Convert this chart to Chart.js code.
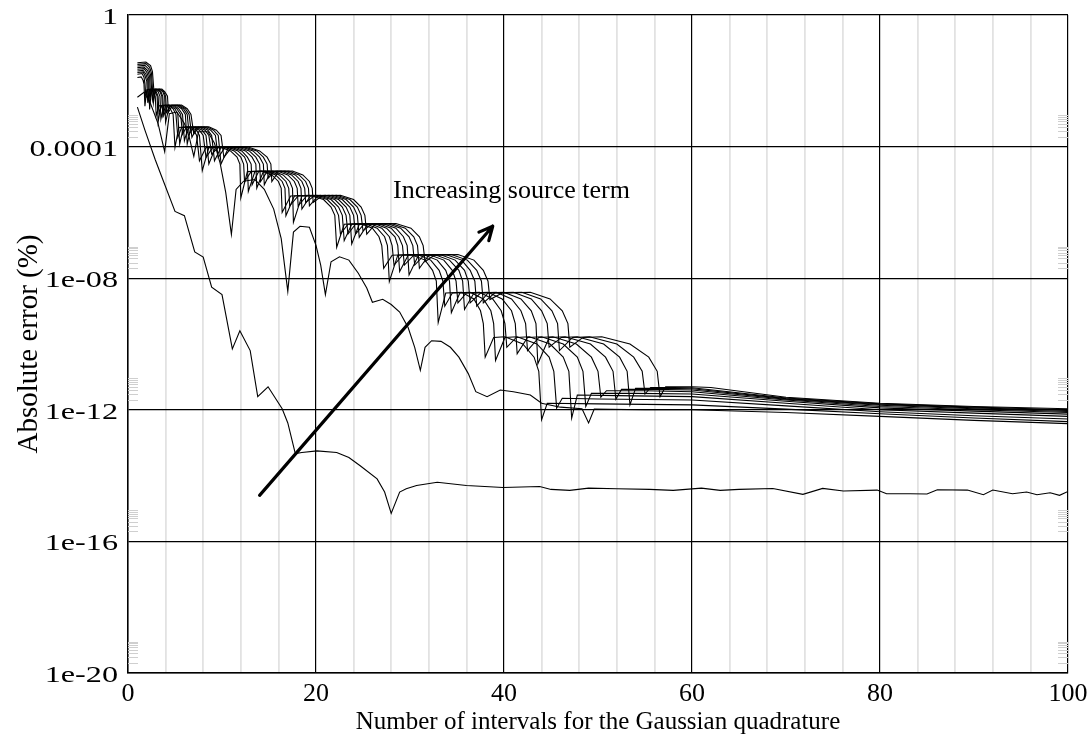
<!DOCTYPE html>
<html>
<head>
<meta charset="utf-8">
<script src="https://cdn.jsdelivr.net/npm/chart.js@4.4.0/dist/chart.umd.min.js"></script>
<style>
html, body { margin: 0; padding: 0; background: #fff; }
</style>
</head>
<body>
<canvas id="errChart" width="1091" height="735"></canvas>
<script>
// values are [number of intervals, log10(absolute error %)]
var curveA = [[1,-2.8],[1.8,-3.5],[2.9,-4.4],[3.7,-5.0],[5,-5.97],[6,-6.1],[7.1,-7.2],[8,-7.36],[8.9,-8.27],[10,-8.5],
  [11.1,-10.15],[11.9,-9.6],[13,-10.2],[13.8,-11.6],[14.9,-11.3],[16.4,-11.97],[17,-12.4],[17.8,-13.33],[18.5,-13.3],
  [20.1,-13.25],[22.2,-13.3],[23.5,-13.45],[24.7,-13.7],[26.5,-14.1],[27.3,-14.5],[28.0,-15.15],[28.9,-14.5],[29.6,-14.4],
  [30.7,-14.3],[32.9,-14.2],[36,-14.3],[39.9,-14.36],[43.8,-14.33],[45,-14.42],[47,-14.45],[49,-14.38],[52,-14.4],
  [55.5,-14.42],[58,-14.45],[61,-14.38],[63,-14.45],[65,-14.42],[68.6,-14.39],[71.8,-14.57],[73.9,-14.39],[76.1,-14.47],
  [79.7,-14.44],[80.7,-14.55],[83.2,-14.55],[85,-14.56],[86.1,-14.43],[89.3,-14.44],[91,-14.58],[92,-14.44],[94.1,-14.55],
  [95.6,-14.5],[96.7,-14.58],[98.1,-14.52],[99.1,-14.6],[100,-14.48]];

var curveB = [[1,-2.5],[1.7,-2.35],[2.4,-2.7],[3.2,-3.3],[3.9,-4.15],[4.4,-3.0],[5.2,-2.95],[6.0,-3.3],[6.5,-3.7],[7.0,-4.3],
  [7.5,-3.55],[8.5,-3.55],[9.2,-3.9],[9.8,-4.5],[10.4,-5.4],[11.0,-6.67],[11.5,-5.3],[12.3,-5.05],[13.5,-5.0],[14.5,-5.3],
  [15.5,-5.9],[16.3,-6.8],[17.0,-8.4],[17.6,-6.6],[18.3,-6.42],[19.3,-6.45],[20.0,-7.0],[20.5,-7.6],[21.0,-8.5],[21.6,-7.5],
  [22.5,-7.35],[23.5,-7.45],[24.5,-7.85],[25.4,-8.3],[26.0,-8.73],[27.1,-8.64],[28.0,-8.8],[28.9,-9.03],[29.8,-9.5],
  [30.5,-10.1],[31.1,-10.8],[31.6,-10.1],[32.3,-9.9],[33.3,-9.92],[34.3,-10.1],[35.2,-10.4],[36.2,-10.9],[37.0,-11.45],
  [38.2,-11.6],[39.6,-11.4],[41.0,-11.45],[42.8,-11.55],[44.0,-11.8],[46.0,-11.92],[48.3,-11.97],[49.0,-12.4],[49.6,-11.98],
  [55,-12.0],[60,-12.0],[70,-12.08],[80,-12.2],[90,-12.32],[100,-12.42]];

var src1 = [[1,-1.9],[1.4,-1.88],[1.6,-1.98],[1.7,-2.1],[1.8,-2.77],
  [2.0,-2.27],[2.4,-2.25],[2.7,-2.33],[2.9,-2.47],[3.0,-3.06],
  [3.3,-2.76],[4.0,-2.74],[4.5,-2.85],[4.8,-3.02],[5.0,-4.02],
  [5.4,-3.42],[6.3,-3.40],[7.0,-3.50],[7.3,-3.66],[7.6,-4.43],
  [8.3,-4.03],[9.8,-4.01],[10.9,-4.13],[11.6,-4.32],[11.9,-4.53],[12.0,-5.56],
  [12.7,-4.76],[14.2,-4.74],[15.3,-4.86],[16.0,-5.06],[16.3,-5.27],[16.4,-6.0],
  [17.3,-5.5],[19.3,-5.48],[20.8,-5.61],[21.6,-5.84],[22.0,-6.09],[22.2,-7.06],
  [23.0,-6.36],[24.7,-6.34],[26.0,-6.48],[26.7,-6.74],[27.0,-7.01],[27.2,-7.7],
  [28.1,-7.3],[30.1,-7.28],[31.6,-7.45],[32.4,-7.76],[32.8,-8.09],[33.0,-9.35],
  [33.8,-8.45],[35.5,-8.43],[36.8,-8.63],[37.5,-8.99],[37.8,-9.38],[38.0,-10.4],
  [38.9,-9.8],[40.1,-9.78],[42.0,-10.0],[43.2,-10.4],[43.7,-10.83],[44.0,-12.3],
  [44.6,-11.8],[50,-11.82],[60,-11.85],[70,-11.98],[80,-12.12],[90,-12.25],[100,-12.36]];

var src2 = [[1,-1.8],[1.5,-1.78],[1.7,-1.89],[1.8,-2.07],[1.9,-2.47],
  [2.1,-2.27],[2.6,-2.25],[2.9,-2.33],[3.1,-2.47],[3.2,-3.26],
  [3.5,-2.76],[4.3,-2.74],[4.8,-2.85],[5.1,-3.02],[5.3,-3.72],
  [5.7,-3.42],[6.6,-3.40],[7.3,-3.50],[7.6,-3.66],[7.9,-4.73],
  [8.6,-4.03],[10.2,-4.01],[11.3,-4.13],[12.0,-4.32],[12.3,-4.53],[12.4,-5.06],
  [13.1,-4.76],[14.6,-4.74],[15.7,-4.86],[16.4,-5.06],[16.7,-5.27],[16.8,-6.1],
  [17.7,-5.5],[19.7,-5.48],[21.2,-5.61],[22.0,-5.84],[22.4,-6.09],[22.6,-6.66],
  [23.4,-6.36],[25.2,-6.34],[26.5,-6.48],[27.3,-6.74],[27.6,-7.01],[27.8,-8.1],
  [28.7,-7.3],[30.8,-7.28],[32.2,-7.45],[33.1,-7.76],[33.5,-8.09],[33.7,-8.85],
  [34.5,-8.45],[36.4,-8.43],[37.8,-8.63],[38.6,-8.99],[38.9,-9.38],[39.1,-10.5],
  [40.1,-9.8],[41.4,-9.78],[43.5,-10.0],[44.8,-10.4],[45.3,-10.83],[45.6,-11.95],
  [46.2,-11.65],[50,-11.67],[60,-11.70],[70,-11.88],[80,-12.06],[90,-12.18],[100,-12.28]];

var src3 = [[1,-1.75],[1.6,-1.73],[1.8,-1.84],[2.0,-2.02],[2.1,-2.67],
  [2.3,-2.27],[2.7,-2.25],[3.0,-2.33],[3.2,-2.47],[3.3,-2.96],
  [3.6,-2.76],[4.4,-2.74],[5.0,-2.85],[5.3,-3.02],[5.5,-3.92],
  [5.9,-3.42],[6.9,-3.40],[7.6,-3.50],[8.0,-3.66],[8.3,-4.33],
  [9.0,-4.03],[10.6,-4.01],[11.7,-4.13],[12.4,-4.32],[12.7,-4.53],[12.8,-5.36],
  [13.5,-4.76],[15.0,-4.74],[16.1,-4.86],[16.8,-5.06],[17.1,-5.27],[17.2,-5.8],
  [18.1,-5.5],[20.1,-5.48],[21.6,-5.61],[22.4,-5.84],[22.8,-6.09],[23.0,-6.86],
  [23.8,-6.36],[25.7,-6.34],[27.0,-6.48],[27.8,-6.74],[28.1,-7.01],[28.3,-7.6],
  [29.2,-7.3],[31.4,-7.28],[32.9,-7.45],[33.8,-7.76],[34.2,-8.09],[34.4,-9.05],
  [35.3,-8.45],[37.4,-8.43],[38.8,-8.63],[39.7,-8.99],[40.1,-9.38],[40.3,-10.1],
  [41.3,-9.8],[42.7,-9.78],[44.9,-10.0],[46.3,-10.4],[46.9,-10.83],[47.2,-12.25],
  [47.8,-11.55],[52,-11.57],[60,-11.60],[70,-11.80],[80,-12.0],[90,-12.1],[100,-12.2]];

var src4 = [[1,-1.7],[1.6,-1.68],[1.9,-1.79],[2.1,-1.97],[2.2,-2.57],
  [2.4,-2.27],[2.9,-2.25],[3.2,-2.33],[3.4,-2.47],[3.5,-3.16],
  [3.8,-2.76],[4.7,-2.74],[5.2,-2.85],[5.6,-3.02],[5.8,-3.62],
  [6.2,-3.42],[7.2,-3.40],[7.9,-3.50],[8.3,-3.66],[8.6,-4.53],
  [9.3,-4.03],[10.9,-4.01],[12.1,-4.13],[12.7,-4.32],[13.1,-4.53],[13.2,-5.16],
  [13.9,-4.76],[15.4,-4.74],[16.5,-4.86],[17.2,-5.06],[17.5,-5.27],[17.6,-6.3],
  [18.5,-5.5],[20.5,-5.48],[22.0,-5.61],[22.8,-5.84],[23.2,-6.09],[23.4,-6.66],
  [24.2,-6.36],[26.2,-6.34],[27.5,-6.48],[28.4,-6.74],[28.7,-7.01],[28.9,-7.8],
  [29.8,-7.3],[32.0,-7.28],[33.6,-7.45],[34.5,-7.76],[34.9,-8.09],[35.1,-8.75],
  [36.0,-8.45],[38.3,-8.43],[39.8,-8.63],[40.8,-8.99],[41.2,-9.38],[41.4,-10.3],
  [42.5,-9.8],[44.0,-9.78],[46.3,-10.0],[47.8,-10.4],[48.4,-10.83],[48.7,-11.9],
  [49.3,-11.5],[54,-11.5],[60,-11.52],[70,-11.74],[80,-11.94],[90,-12.04],[100,-12.13]];

var src5 = [[1,-1.65],[1.7,-1.63],[2.0,-1.74],[2.2,-1.92],[2.3,-2.87],
  [2.5,-2.27],[3.0,-2.25],[3.4,-2.33],[3.6,-2.47],[3.7,-3.06],
  [4.0,-2.76],[4.9,-2.74],[5.4,-2.85],[5.8,-3.02],[6.0,-3.82],
  [6.4,-3.42],[7.5,-3.40],[8.2,-3.50],[8.6,-3.66],[8.9,-4.23],
  [9.6,-4.03],[11.3,-4.01],[12.5,-4.13],[13.2,-4.32],[13.6,-4.53],[13.7,-5.26],
  [14.4,-4.76],[15.9,-4.74],[17.0,-4.86],[17.7,-5.06],[18.0,-5.27],[18.1,-5.8],
  [19.0,-5.5],[21.0,-5.48],[22.4,-5.61],[23.2,-5.84],[23.6,-6.09],[23.8,-6.96],
  [24.6,-6.36],[26.6,-6.34],[28.0,-6.48],[28.8,-6.74],[29.2,-7.01],[29.4,-7.6],
  [30.4,-7.3],[32.6,-7.28],[34.2,-7.45],[35.2,-7.76],[35.6,-8.09],[35.8,-8.95],
  [36.8,-8.45],[39.2,-8.43],[40.8,-8.63],[41.8,-8.99],[42.3,-9.38],[42.5,-10.2],
  [43.7,-9.8],[45.2,-9.78],[47.7,-10.0],[49.3,-10.4],[50.0,-10.83],[50.3,-11.62],
  [50.9,-11.42],[55,-11.42],[60,-11.45],[70,-11.70],[80,-11.90],[90,-12.0],[100,-12.08]];

var src6 = [[1,-1.6],[1.7,-1.58],[2.1,-1.69],[2.3,-1.87],[2.4,-2.47],
  [2.6,-2.27],[3.1,-2.25],[3.5,-2.33],[3.7,-2.47],[3.8,-3.06],
  [4.2,-2.76],[5.1,-2.74],[5.7,-2.85],[6.1,-3.02],[6.3,-3.92],
  [6.7,-3.42],[7.8,-3.40],[8.5,-3.50],[8.9,-3.66],[9.2,-4.43],
  [9.9,-4.03],[11.7,-4.01],[12.9,-4.13],[13.6,-4.32],[14.0,-4.53],[14.1,-5.06],
  [14.8,-4.76],[16.3,-4.74],[17.4,-4.86],[18.1,-5.06],[18.4,-5.27],[18.5,-5.9],
  [19.4,-5.5],[21.4,-5.48],[22.8,-5.61],[23.6,-5.84],[24.0,-6.09],[24.2,-6.66],
  [25.1,-6.36],[27.1,-6.34],[28.5,-6.48],[29.3,-6.74],[29.7,-7.01],[29.9,-7.9],
  [30.9,-7.3],[33.2,-7.28],[34.8,-7.45],[35.8,-7.76],[36.2,-8.09],[36.4,-8.75],
  [37.5,-8.45],[40.0,-8.43],[41.8,-8.63],[42.9,-8.99],[43.4,-9.38],[43.6,-10.6],
  [44.8,-9.8],[46.5,-9.78],[49.2,-10.0],[50.8,-10.4],[51.6,-10.83],[51.9,-11.68],
  [52.5,-11.38],[56,-11.38],[60,-11.40],[70,-11.68],[80,-11.86],[90,-11.97],[100,-12.05]];

var src7 = [[1,-1.55],[1.8,-1.53],[2.2,-1.64],[2.4,-1.82],[2.6,-2.57],
  [2.8,-2.27],[3.3,-2.25],[3.7,-2.33],[3.9,-2.47],[4.0,-3.26],
  [4.4,-2.76],[5.3,-2.74],[5.9,-2.85],[6.3,-3.02],[6.5,-3.62],
  [7.0,-3.42],[8.1,-3.40],[8.8,-3.50],[9.3,-3.66],[9.6,-4.33],
  [10.3,-4.03],[12.1,-4.01],[13.3,-4.13],[14.0,-4.32],[14.4,-4.53],[14.5,-5.16],
  [15.2,-4.76],[16.7,-4.74],[17.8,-4.86],[18.5,-5.06],[18.8,-5.27],[18.9,-5.7],
  [19.8,-5.5],[21.8,-5.48],[23.2,-5.61],[24.0,-5.84],[24.4,-6.09],[24.6,-6.76],
  [25.5,-6.36],[27.6,-6.34],[29.0,-6.48],[29.9,-6.74],[30.3,-7.01],[30.5,-7.6],
  [31.5,-7.3],[33.8,-7.28],[35.5,-7.45],[36.4,-7.76],[36.9,-8.09],[37.1,-8.85],
  [38.3,-8.45],[41.0,-8.43],[42.9,-8.63],[44.0,-8.99],[44.6,-9.38],[44.8,-10.1],
  [46.1,-9.8],[47.8,-9.78],[50.6,-10.0],[52.3,-10.4],[53.1,-10.83],[53.4,-11.85],
  [54.0,-11.35],[57,-11.35],[60,-11.36],[70,-11.66],[80,-11.84],[90,-11.94],[100,-12.02]];

var src8 = [[1,-1.5],[1.9,-1.48],[2.3,-1.59],[2.5,-1.77],[2.7,-2.67],
  [2.9,-2.27],[3.4,-2.25],[3.8,-2.33],[4.0,-2.47],[4.1,-2.96],
  [4.5,-2.76],[5.5,-2.74],[6.1,-2.85],[6.5,-3.02],[6.8,-3.72],
  [7.3,-3.42],[8.4,-3.40],[9.1,-3.50],[9.6,-3.66],[9.9,-4.53],
  [10.7,-4.03],[12.4,-4.01],[13.7,-4.13],[14.4,-4.32],[14.8,-4.53],[14.9,-4.96],
  [15.6,-4.76],[17.1,-4.74],[18.2,-4.86],[18.9,-5.06],[19.2,-5.27],[19.3,-5.8],
  [20.2,-5.5],[22.2,-5.48],[23.6,-5.61],[24.4,-5.84],[24.8,-6.09],[25.0,-6.56],
  [25.9,-6.36],[28.0,-6.34],[29.5,-6.48],[30.4,-6.74],[30.8,-7.01],[31.0,-7.7],
  [32.0,-7.3],[34.4,-7.28],[36.1,-7.45],[37.1,-7.76],[37.6,-8.09],[37.8,-8.75],
  [39.0,-8.45],[41.9,-8.43],[43.9,-8.63],[45.1,-8.99],[45.7,-9.38],[45.9,-10.2],
  [47.3,-9.8],[49.1,-9.78],[52.0,-10.0],[53.8,-10.4],[54.7,-10.83],[55.0,-11.52],
  [55.6,-11.32],[58,-11.32],[60,-11.33],[70,-11.64],[80,-11.82],[90,-11.92],[100,-12.0]];

var src9 = [[1,-1.45],[1.9,-1.43],[2.4,-1.54],[2.6,-1.72],[2.8,-2.47],
  [3.0,-2.27],[3.6,-2.25],[3.9,-2.33],[4.2,-2.47],[4.3,-2.96],
  [4.7,-2.76],[5.7,-2.74],[6.3,-2.85],[6.7,-3.02],[7.0,-3.62],
  [7.5,-3.42],[8.6,-3.40],[9.4,-3.50],[9.9,-3.66],[10.2,-4.33],
  [11.0,-4.03],[12.8,-4.01],[14.0,-4.13],[14.8,-4.32],[15.2,-4.53],[15.3,-5.06],
  [16.0,-4.76],[17.5,-4.74],[18.6,-4.86],[19.3,-5.06],[19.6,-5.27],[19.7,-5.7],
  [20.6,-5.5],[22.6,-5.48],[24.0,-5.61],[24.8,-5.84],[25.2,-6.09],[25.4,-6.66],
  [26.3,-6.36],[28.5,-6.34],[30.1,-6.48],[31.0,-6.74],[31.4,-7.01],[31.6,-7.5],
  [32.6,-7.3],[35.1,-7.28],[36.8,-7.45],[37.8,-7.76],[38.3,-8.09],[38.5,-8.65],
  [39.8,-8.45],[42.8,-8.43],[44.9,-8.63],[46.2,-8.99],[46.8,-9.38],[47.0,-10.1],
  [48.4,-9.8],[50.4,-9.78],[53.4,-10.0],[55.4,-10.4],[56.3,-10.83],[56.6,-11.6],
  [57.2,-11.3],[60,-11.30],[62,-11.32],[70,-11.62],[80,-11.80],[90,-11.90],[100,-11.97]];

var yTickValues = [1e-20, 1e-16, 1e-12, 1e-8, 1e-4, 1];
var yTickLabels = ['1e-20', '1e-16', '1e-12', '1e-08', '0.0001', '1'];

// annotation: arrow tail/head and text anchor, in [x, log10(y)]
var arrowFrom = [14.0, -14.6];
var arrowTo = [38.8, -6.42];
var noteAt = [28.2, -5.35];
var noteText = 'Increasing source term';

var serif = "'Liberation Serif', 'Times New Roman', serif";

function toPoints(arr) {
    return arr.map(function (p) { return {x: p[0], y: Math.pow(10, p[1])}; });
}

var allCurves = [curveA, curveB, src1, src2, src3, src4, src5, src6, src7, src8, src9];

var decor = {
    id: 'decor',
    beforeDatasetsDraw: function (chart) {
        var ctx = chart.ctx, ys = chart.scales.y, area = chart.chartArea;
        ctx.save();
        ctx.strokeStyle = '#cfcfcf';
        ctx.lineWidth = 1.2;
        // small log marks above each labelled decade, both sides
        for (var d = -20; d <= -4; d += 4) {
            for (var k = 2; k <= 9; k++) {
                var py = Math.round(ys.getPixelForValue(k * Math.pow(10, d))) + 0.5;
                ctx.beginPath();
                ctx.moveTo(area.left, py); ctx.lineTo(area.left + 10, py);
                ctx.moveTo(area.right - 10, py); ctx.lineTo(area.right, py);
                ctx.stroke();
            }
        }
        ctx.restore();
    },
    afterDatasetsDraw: function (chart) {
        var ctx = chart.ctx, xs = chart.scales.x, ys = chart.scales.y;
        var x0 = xs.getPixelForValue(arrowFrom[0]), y0 = ys.getPixelForValue(Math.pow(10, arrowFrom[1]));
        var x1 = xs.getPixelForValue(arrowTo[0]), y1 = ys.getPixelForValue(Math.pow(10, arrowTo[1]));
        var ang = Math.atan2(y1 - y0, x1 - x0);
        ctx.save();
        ctx.strokeStyle = '#000';
        ctx.lineWidth = 3.2;
        ctx.lineCap = 'round';
        ctx.beginPath();
        ctx.moveTo(x0, y0); ctx.lineTo(x1, y1);
        ctx.moveTo(x1, y1); ctx.lineTo(x1 - 15 * Math.cos(ang - 0.45), y1 - 15 * Math.sin(ang - 0.45));
        ctx.moveTo(x1, y1); ctx.lineTo(x1 - 15 * Math.cos(ang + 0.45), y1 - 15 * Math.sin(ang + 0.45));
        ctx.stroke();
        ctx.fillStyle = '#000';
        ctx.font = '26px ' + serif;
        ctx.textAlign = 'left';
        ctx.textBaseline = 'middle';
        ctx.fillText(noteText, xs.getPixelForValue(noteAt[0]), ys.getPixelForValue(Math.pow(10, noteAt[1])));

        // y tick labels: the source draws them wide, so stretch horizontally
        ctx.font = '23px ' + serif;
        ctx.textAlign = 'right';
        for (var i = 0; i < yTickValues.length; i++) {
            var py = ys.getPixelForValue(yTickValues[i]);
            ctx.save();
            ctx.translate(chart.chartArea.left - 10, py + 3);
            ctx.scale(1.4, 1);
            ctx.fillText(yTickLabels[i], 0, 0);
            ctx.restore();
        }
        ctx.restore();
    }
};

var ctx = document.getElementById('errChart');

var errChart = new Chart(ctx, {
    type: 'line',
    data: {
        datasets: allCurves.map(function (c) {
            return {
                data: toPoints(c),
                borderColor: '#000',
                borderWidth: 1.1,
                pointRadius: 0,
                tension: 0,
                fill: false
            };
        })
    },
    options: {
        responsive: false,
        animation: false,
        devicePixelRatio: 1,
        layout: { padding: { left: 0, right: 23, top: 15, bottom: 0 } },
        plugins: { legend: { display: false }, tooltip: { enabled: false } },
        scales: {
            x: {
                type: 'linear',
                min: 0,
                max: 100,
                afterFit: function (s) { s.height = 62; s.paddingLeft = 0; s.paddingRight = 0; },
                ticks: {
                    stepSize: 4,
                    autoSkip: false,
                    maxRotation: 0,
                    padding: 8,
                    color: '#000',
                    font: { family: serif, size: 26, lineHeight: 1 },
                    callback: function (v) { return v % 20 === 0 ? String(v) : ''; }
                },
                grid: {
                    drawTicks: false,
                    color: function (c) { return c.tick && c.tick.value % 20 === 0 ? '#000' : '#e2e2e2'; },
                    lineWidth: function (c) { return c.tick && c.tick.value % 20 === 0 ? 1.2 : 1.8; }
                },
                border: { color: '#000', width: 1.5 },
                title: {
                    display: true,
                    text: 'Number of intervals for the Gaussian quadrature',
                    color: '#000',
                    font: { family: serif, size: 25, lineHeight: 1 },
                    padding: { top: 0, bottom: 0 }
                }
            },
            y: {
                type: 'logarithmic',
                min: 1e-20,
                max: 1,
                afterFit: function (s) { s.width = 128; s.paddingTop = 0; s.paddingBottom = 0; },
                afterBuildTicks: function (s) {
                    s.ticks = yTickValues.map(function (v) { return {value: v}; });
                },
                ticks: {
                    display: false,
                    autoSkip: false
                },
                grid: { drawTicks: false, color: '#000', lineWidth: 1.2 },
                border: { color: '#000', width: 1.5 },
                title: {
                    display: true,
                    text: 'Absolute error (%)',
                    color: '#000',
                    font: { family: serif, size: 29, lineHeight: 1 },
                    padding: { top: 15, bottom: 0 }
                }
            }
        }
    },
    plugins: [decor]
});
</script>
</body>
</html>
